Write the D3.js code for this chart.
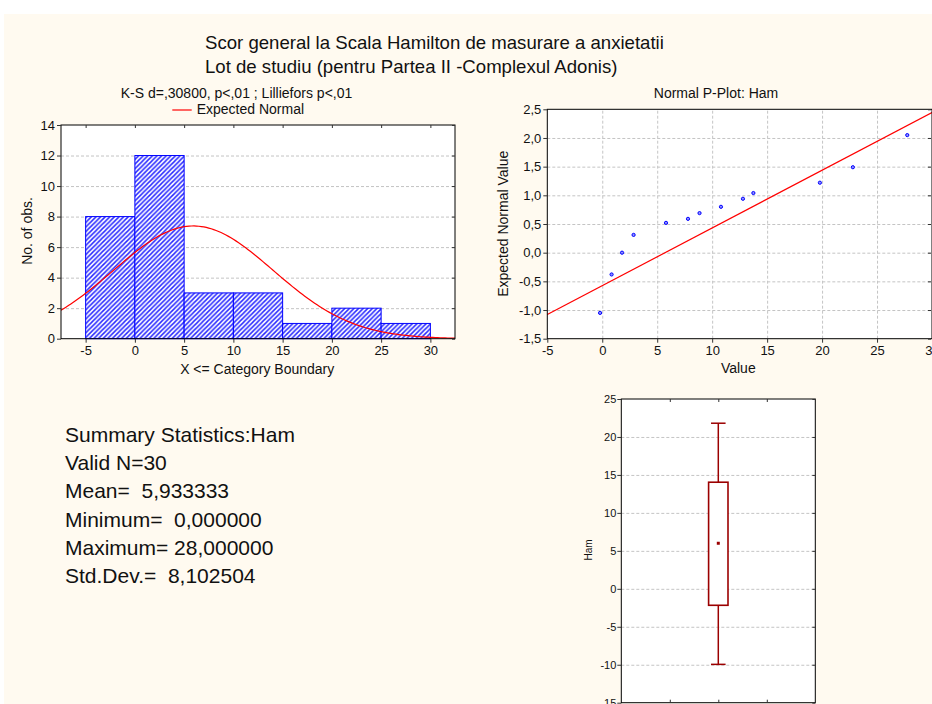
<!DOCTYPE html>
<html><head><meta charset="utf-8">
<script src="https://cdn.jsdelivr.net/npm/d3@7"></script>
<style>
body{margin:0;padding:0;background:#fff;}
svg{display:block;font-family:"Liberation Sans",Arial,sans-serif;}
.grid line{stroke:#c4c4c4;stroke-dasharray:3,2;stroke-width:1;}
.grid path{display:none;}
</style></head><body>
<script>
// ---------- data ----------
const titleLines = ["Scor general la Scala Hamilton de masurare a anxietatii",
                    "Lot de studiu (pentru Partea II -Complexul Adonis)"];
const histTitle = "K-S d=,30800, p<,01 ; Lilliefors p<,01";
const legendLabel = "Expected Normal";
const binLower = [-5, 0, 5, 10, 15, 20, 25];
const binUpper = [0, 5, 10, 15, 20, 25, 30];
const binCounts = [8, 12, 3, 3, 1, 2, 1];
const histXTicks = [-5, 0, 5, 10, 15, 20, 25, 30];
const histYTicks = [0, 2, 4, 6, 8, 10, 12, 14];
const statN = 30, statMean = 5.933333, statSD = 8.102504, binWidth = 5;

const pplotTitle = "Normal P-Plot: Ham";
const pplotX = [-0.2, 0.85, 1.8, 2.85, 5.8, 7.8, 8.85, 10.8, 12.8, 13.75, 19.8, 22.8, 27.75];
const pplotY = [-1.05, -0.38, 0.0, 0.31, 0.52, 0.59, 0.69, 0.80, 0.94, 1.04, 1.22, 1.49, 2.05];
const pplotLineX = [-5, 30];
const pplotLineY = [-1.078, 2.443];
const pplotXTicks = [-5, 0, 5, 10, 15, 20, 25, 30];
const pplotYTicks = [-1.5, -1.0, -0.5, 0.0, 0.5, 1.0, 1.5, 2.0, 2.5];

const boxLabel = "Ham";
const boxMean = [6.0];
const boxLo = [-2.17], boxHi = [14.04];
const whiskLo = [-9.95], whiskHi = [21.81];
const boxYTicks = [-15, -10, -5, 0, 5, 10, 15, 20, 25];

const summaryLines = ["Summary Statistics:Ham", "Valid N=30", "Mean=  5,933333",
  "Minimum=  0,000000", "Maximum= 28,000000", "Std.Dev.=  8,102504"];

// ---------- svg ----------
const W = 932, H = 704;
const svg = d3.select("body").append("svg").attr("width", W).attr("height", H);
const defs = svg.append("defs");
const pat = defs.append("pattern").attr("id", "hatch").attr("patternUnits", "userSpaceOnUse")
  .attr("width", 4.6).attr("height", 4.6);
pat.append("rect").attr("width", 4.6).attr("height", 4.6).attr("fill", "#fff");
pat.append("path").attr("d", "M-1,1 L1,-1 M0,4.6 L4.6,0 M3.6,5.6 L5.6,3.6")
  .attr("stroke", "#2a2aff").attr("stroke-width", 1.5);

svg.append("rect").attr("width", W).attr("height", H).attr("fill", "#fff");
svg.append("rect").attr("x", 4).attr("y", 14).attr("width", W - 4).attr("height", H - 14).attr("fill", "#fffaf0");

const fmtInt = d => String(d);
const fmtComma = d => d3.format(".1f")(d).replace(".", ",").replace("\u2212", "-");

function styleAxis(g, fs) {
  g.select(".domain").remove();
  g.selectAll(".tick line").attr("stroke", "#333");
  g.selectAll(".tick text").attr("font-size", fs).attr("fill", "#111")
    .attr("font-family", '"Liberation Sans",Arial,sans-serif');
}

// title
svg.append("g").selectAll("text").data(titleLines).join("text")
  .attr("x", 205).attr("y", (d, i) => 49.3 + i * 24).attr("font-size", 18.6).attr("fill", "#111").text(d => d);

// ---------- histogram ----------
{
  const L = 61, R = 455, T = 125, B = 338.7;
  const x = d3.scaleLinear().domain([-7.5, 32.5]).range([L, R]);
  const y = d3.scaleLinear().domain([0, 14]).range([B, T]);
  const clip = defs.append("clipPath").attr("id", "clipH");
  clip.append("rect").attr("x", L).attr("y", T).attr("width", R - L).attr("height", B - T);
  svg.append("rect").attr("x", L).attr("y", T).attr("width", R - L).attr("height", B - T).attr("fill", "#fff");
  svg.append("g").attr("class", "grid").attr("transform", `translate(${L},0)`)
    .call(d3.axisLeft(y).tickValues(histYTicks.filter(v => v > 0 && v < 14)).tickSize(-(R - L)).tickFormat(""));
  svg.append("g").selectAll("rect").data(binCounts).join("rect")
    .attr("x", (d, i) => x(binLower[i])).attr("width", (d, i) => x(binUpper[i]) - x(binLower[i]))
    .attr("y", d => y(d)).attr("height", d => y(0) - y(d))
    .attr("fill", "url(#hatch)").attr("stroke", "#0000ff").attr("stroke-width", 1);
  const pts = d3.range(-7.5, 32.51, 0.25).map(v => [v,
    statN * binWidth * Math.exp(-0.5 * ((v - statMean) / statSD) ** 2) / (statSD * Math.sqrt(2 * Math.PI))]);
  svg.append("path").datum(pts).attr("clip-path", "url(#clipH)")
    .attr("d", d3.line().x(d => x(d[0])).y(d => y(d[1])))
    .attr("fill", "none").attr("stroke", "#ff0000").attr("stroke-width", 1.2);
  svg.append("rect").attr("x", L).attr("y", T).attr("width", R - L).attr("height", B - T)
    .attr("fill", "none").attr("stroke", "#000").attr("stroke-width", 1);
  svg.append("g").attr("transform", `translate(${L},0)`)
    .call(d3.axisLeft(y).tickValues(histYTicks).tickSize(4).tickPadding(2).tickFormat(fmtInt)).call(g => styleAxis(g, 13));
  svg.append("g").attr("transform", `translate(0,${B})`)
    .call(d3.axisBottom(x).tickValues(histXTicks).tickSize(4).tickPadding(3).tickFormat(fmtInt)).call(g => styleAxis(g, 13));
  svg.append("g").attr("transform", `translate(0,${T})`)
    .call(d3.axisTop(x).tickValues(histXTicks).tickSize(-3).tickFormat("")).call(g => styleAxis(g, 13));
  svg.append("g").attr("transform", `translate(${R},0)`)
    .call(d3.axisRight(y).tickValues(histYTicks).tickSize(-3).tickFormat("")).call(g => styleAxis(g, 13));
  svg.append("text").attr("x", 236.5).attr("y", 98.3).attr("text-anchor", "middle").attr("font-size", 14).attr("fill", "#111").text(histTitle);
  svg.append("line").attr("x1", 172.3).attr("x2", 191.7).attr("y1", 110).attr("y2", 110).attr("stroke", "#ff0000").attr("stroke-width", 1.2);
  svg.append("text").attr("x", 196.7).attr("y", 114).attr("font-size", 14).attr("fill", "#111").text(legendLabel);
  svg.append("text").attr("x", 257.2).attr("y", 374).attr("text-anchor", "middle").attr("font-size", 14).attr("fill", "#111").text("X <= Category Boundary");
  svg.append("text").attr("transform", "translate(31.5,231) rotate(-90)").attr("text-anchor", "middle").attr("font-size", 14).attr("fill", "#111").text("No. of obs.");
}

// ---------- P-plot ----------
{
  const L = 547.3, R = 932, T = 109.3, B = 338.7;
  const x = d3.scaleLinear().domain([-5, 30]).range([L, R]);
  const y = d3.scaleLinear().domain([-1.5, 2.5]).range([B, T]);
  svg.append("rect").attr("x", L).attr("y", T).attr("width", R - L).attr("height", B - T).attr("fill", "#fff");
  svg.append("g").attr("class", "grid").attr("transform", `translate(${L},0)`)
    .call(d3.axisLeft(y).tickValues(pplotYTicks.filter(v => v > -1.5 && v < 2.5)).tickSize(-(R - L)).tickFormat(""));
  svg.append("g").attr("class", "grid").attr("transform", `translate(0,${B})`)
    .call(d3.axisBottom(x).tickValues(pplotXTicks.filter(v => v > -5 && v < 30)).tickSize(-(B - T)).tickFormat(""));
  svg.append("line").attr("x1", x(pplotLineX[0])).attr("y1", y(pplotLineY[0]))
    .attr("x2", x(pplotLineX[1])).attr("y2", y(pplotLineY[1])).attr("stroke", "#ff0000").attr("stroke-width", 1.2);
  svg.append("g").selectAll("circle").data(pplotX).join("circle")
    .attr("cx", d => x(d)).attr("cy", (d, i) => y(pplotY[i])).attr("r", 1.6)
    .attr("fill", "#9090ff").attr("stroke", "#0000ff").attr("stroke-width", 1);
  svg.append("rect").attr("x", L).attr("y", T).attr("width", R - L).attr("height", B - T)
    .attr("fill", "none").attr("stroke", "#000").attr("stroke-width", 1);
  svg.append("g").attr("transform", `translate(${L},0)`)
    .call(d3.axisLeft(y).tickValues(pplotYTicks).tickSize(4).tickPadding(2).tickFormat(fmtComma)).call(g => styleAxis(g, 13));
  svg.append("g").attr("transform", `translate(0,${B})`)
    .call(d3.axisBottom(x).tickValues(pplotXTicks).tickSize(4).tickPadding(3).tickFormat(fmtInt)).call(g => styleAxis(g, 13));
  svg.append("g").attr("transform", `translate(${R - 1},0)`)
    .call(d3.axisRight(y).tickValues(pplotYTicks).tickSize(-3).tickFormat("")).call(g => styleAxis(g, 13));
  svg.append("text").attr("x", 716).attr("y", 98.3).attr("text-anchor", "middle").attr("font-size", 14).attr("fill", "#111").text(pplotTitle);
  svg.append("text").attr("x", 738.3).attr("y", 373.3).attr("text-anchor", "middle").attr("font-size", 14).attr("fill", "#111").text("Value");
  svg.append("text").attr("transform", "translate(508,223.8) rotate(-90)").attr("text-anchor", "middle").attr("font-size", 14).attr("fill", "#111").text("Expected Normal Value");
}

// ---------- box plot ----------
{
  const L = 621.3, R = 815.3, T = 399, B = 702.7;
  const x = d3.scaleLinear().domain([0, 4]).range([L, R]);
  const y = d3.scaleLinear().domain([-15, 25]).range([B, T]);
  const col = "#9b0000";
  svg.append("rect").attr("x", L).attr("y", T).attr("width", R - L).attr("height", B - T).attr("fill", "#fff");
  svg.append("g").attr("class", "grid").attr("transform", `translate(${L},0)`)
    .call(d3.axisLeft(y).tickValues(boxYTicks.filter(v => v > -15 && v < 25)).tickSize(-(R - L)).tickFormat(""));
  const cx = x(2);
  svg.append("line").attr("x1", cx).attr("x2", cx).attr("y1", y(whiskHi[0])).attr("y2", y(boxHi[0])).attr("stroke", col).attr("stroke-width", 1.5);
  svg.append("line").attr("x1", cx).attr("x2", cx).attr("y1", y(boxLo[0])).attr("y2", y(whiskLo[0])).attr("stroke", col).attr("stroke-width", 1.5);
  [whiskHi[0], whiskLo[0]].forEach(v => svg.append("line").attr("x1", x(1.85)).attr("x2", x(2.15))
    .attr("y1", y(v)).attr("y2", y(v)).attr("stroke", col).attr("stroke-width", 1.5));
  svg.append("rect").attr("x", x(1.8)).attr("width", x(2.2) - x(1.8)).attr("y", y(boxHi[0])).attr("height", y(boxLo[0]) - y(boxHi[0]))
    .attr("fill", "#fff").attr("stroke", col).attr("stroke-width", 1.6);
  svg.append("rect").attr("x", cx - 1.5).attr("y", y(boxMean[0]) - 1.5).attr("width", 3).attr("height", 3).attr("fill", col);
  svg.append("rect").attr("x", L).attr("y", T).attr("width", R - L).attr("height", B - T)
    .attr("fill", "none").attr("stroke", "#000").attr("stroke-width", 1);
  svg.append("g").attr("transform", `translate(${L},0)`)
    .call(d3.axisLeft(y).tickValues(boxYTicks).tickSize(4).tickPadding(1).tickFormat(fmtInt)).call(g => styleAxis(g, 11));
  svg.append("g").attr("transform", `translate(${R},0)`)
    .call(d3.axisRight(y).tickValues(boxYTicks).tickSize(-3).tickFormat("")).call(g => styleAxis(g, 11));
  svg.append("g").attr("transform", `translate(0,${T})`)
    .call(d3.axisTop(x).tickValues([1, 2, 3]).tickSize(-3).tickFormat("")).call(g => styleAxis(g, 11));
  svg.append("g").attr("transform", `translate(0,${B})`)
    .call(d3.axisBottom(x).tickValues([1, 2, 3]).tickSize(-3).tickFormat("")).call(g => styleAxis(g, 11));
  svg.append("text").attr("transform", "translate(591.5,550) rotate(-90)").attr("text-anchor", "middle").attr("font-size", 10).attr("fill", "#111").text(boxLabel);
}

// ---------- summary ----------
svg.append("g").selectAll("text").data(summaryLines).join("text")
  .attr("x", 65).attr("y", (d, i) => 441.7 + i * 28.3).attr("font-size", 21).attr("fill", "#111")
  .style("white-space", "pre").attr("xml:space", "preserve").text(d => d);
</script>
</body></html>
